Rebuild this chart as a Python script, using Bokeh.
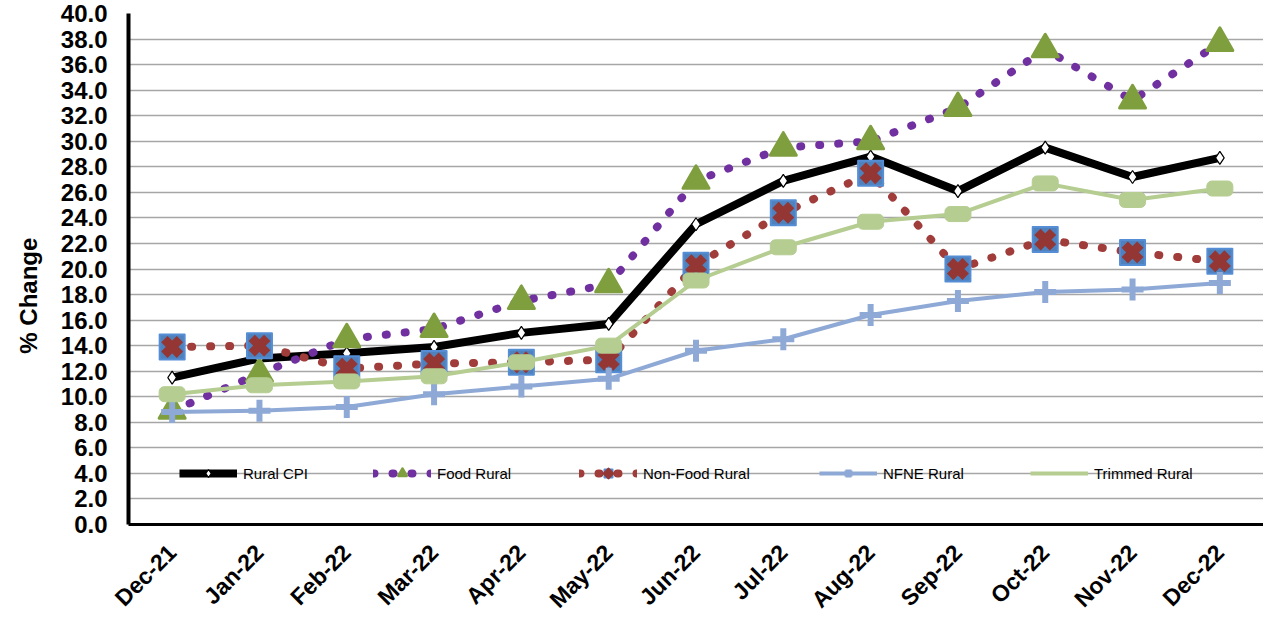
import math
from bokeh.plotting import figure
from bokeh.models import (ColumnDataSource, FactorRange, Range1d, FixedTicker,
                          Legend, LegendItem, NumeralTickFormatter)
from bokeh.embed import file_html
from bokeh.resources import INLINE

months = ["Dec-21", "Jan-22", "Feb-22", "Mar-22", "Apr-22", "May-22", "Jun-22",
          "Jul-22", "Aug-22", "Sep-22", "Oct-22", "Nov-22", "Dec-22"]
rural_cpi = [11.5, 13.0, 13.4, 13.9, 15.0, 15.7, 23.5, 26.9, 28.8, 26.1, 29.5, 27.2, 28.7]
food_rural = [8.9, 11.8, 14.5, 15.3, 17.5, 18.8, 26.9, 29.5, 30.0, 32.6, 37.2, 33.2, 37.7]
nonfood_rural = [13.9, 14.0, 12.2, 12.6, 12.7, 12.9, 20.3, 24.4, 27.5, 20.0, 22.3, 21.3, 20.6]
nfne_rural = [8.8, 8.9, 9.2, 10.2, 10.8, 11.4, 13.6, 14.5, 16.4, 17.5, 18.2, 18.4, 18.9]
trimmed_rural = [10.2, 10.9, 11.2, 11.6, 12.7, 14.0, 19.1, 21.7, 23.7, 24.3, 26.7, 25.4, 26.3]
y_ticks = [float(v) for v in range(0, 41, 2)]

src = ColumnDataSource(dict(m=months, cpi=rural_cpi, food=food_rural,
                            nonfood=nonfood_rural, nfne=nfne_rural,
                            trimmed=trimmed_rural))

FONT = "Liberation Sans"

p = figure(width=1263, height=625, output_backend="svg", toolbar_location=None,
           x_range=FactorRange(factors=months, range_padding=0),
           y_range=Range1d(0, 40),
           min_border_left=128, min_border_right=0, min_border_top=13,
           min_border_bottom=97)
p.outline_line_color = None
p.xgrid.grid_line_color = None
p.ygrid.grid_line_color = "#A6A6A6"
p.ygrid.grid_line_width = 1.5
p.yaxis.ticker = FixedTicker(ticks=y_ticks)
p.yaxis.formatter = NumeralTickFormatter(format="0.0")

for ax in (p.xaxis[0], p.yaxis[0]):
    ax.axis_line_color = "black"
    ax.major_tick_line_color = None
    ax.minor_tick_line_color = None
    ax.major_tick_out = 0
    ax.major_tick_in = 0
    ax.minor_tick_out = 0
    ax.major_label_text_font = FONT
    ax.major_label_text_font_style = "bold"
    ax.major_label_text_color = "black"
p.yaxis.axis_line_width = 4
p.xaxis.axis_line_width = 3
p.yaxis.major_label_text_font_size = "24px"
p.yaxis.major_label_standoff = 21
p.xaxis.major_label_text_font_size = "23px"
p.xaxis.major_label_orientation = math.pi / 4
p.xaxis.major_label_standoff = 24
p.yaxis.axis_label = "% Change" + "\u00a0" * 8
p.yaxis.axis_label_text_font = FONT
p.yaxis.axis_label_text_font_style = "bold"
p.yaxis.axis_label_text_font_size = "24px"
p.yaxis.axis_label_text_color = "black"
p.yaxis.axis_label_standoff = 16

# Rural CPI
cpi_line = p.line("m", "cpi", source=src, line_color="black", line_width=8,
                  line_join="round")
cpi_mk = p.scatter("m", "cpi", source=src, marker="diamond", size=13,
                   fill_color="white", line_color="black", line_width=1.2)

# Food Rural
food_line = p.line("m", "food", source=src, line_color="#7030A0", line_width=8,
                   line_dash="1 18", line_cap="round")
food_mk = p.scatter("m", "food", source=src, marker="triangle", size=26,
                    fill_color="#7F9F3F", line_color="#7F9F3F", line_width=3,
                    line_join="round")

# Non-Food Rural
nf_line = p.line("m", "nonfood", source=src, line_color="#A03C3A", line_width=8,
                 line_dash="1 18", line_cap="round")
nf_sq = p.scatter("m", "nonfood", source=src, marker="square", size=25,
                  fill_color="#4F81BD", line_color="#558ED5", line_width=2,
                  line_join="round")
nf_x = p.scatter("m", "nonfood", source=src, marker="x", size=22,
                 line_color="#943634", line_width=9)

# NFNE Rural
nfne_line = p.line("m", "nfne", source=src, line_color="#8EA9D6", line_width=4)
nfne_mk = p.scatter("m", "nfne", source=src, marker="cross", size=22,
                    line_color="#8EA9D6", line_width=6)

# Trimmed Rural
tr_line = p.line("m", "trimmed", source=src, line_color="#B5CD91", line_width=4)
tr_mk = p.rect("m", "trimmed", source=src, width=26, height=15,
               width_units="screen", height_units="screen",
               fill_color="#B5CD91", line_color="#B5CD91", border_radius=5)

legend_specs = [
    ("Rural CPI", [cpi_line, cpi_mk], 51),
    ("Food Rural", [food_line, food_mk], 245),
    ("Non-Food Rural", [nf_line, nf_sq, nf_x], 451),
    ("NFNE Rural", [nfne_line, nfne_mk], 691),
    ("Trimmed Rural", [tr_line], 902),
]
for label, rends, xoff in legend_specs:
    lg = Legend(items=[LegendItem(label=label, renderers=rends)],
                location=(xoff, 41), orientation="horizontal",
                background_fill_alpha=0, border_line_color=None,
                padding=0, margin=0, glyph_width=58, glyph_height=20,
                label_standoff=6, label_text_font=FONT,
                label_text_font_size="15px", label_text_color="black",
                label_height=20)
    p.add_layout(lg)

open("out.html", "w").write(file_html(p, INLINE))
